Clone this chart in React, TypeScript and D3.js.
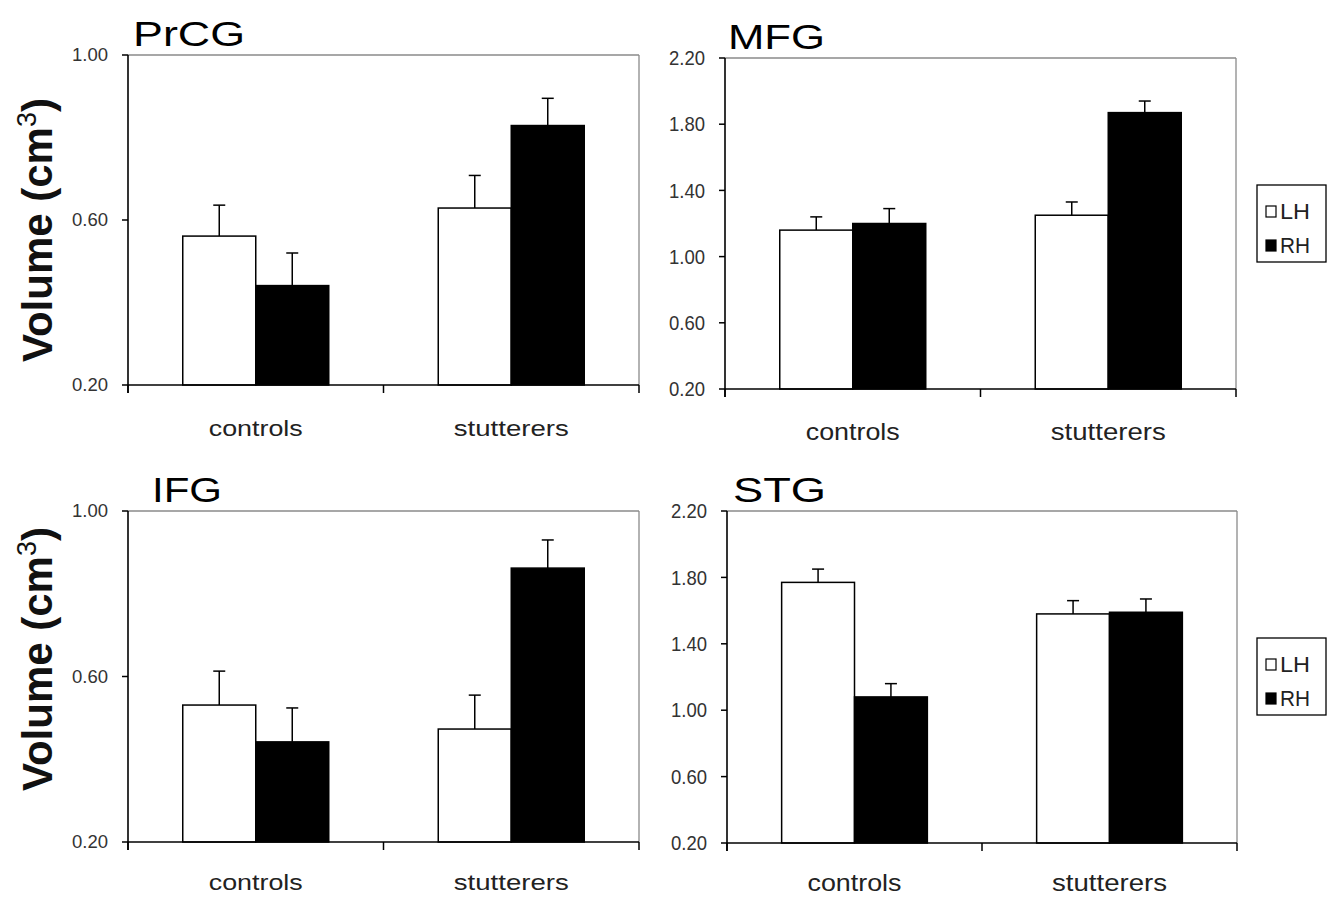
import * as d3 from 'd3'

// chart values
const groups = ['controls', 'stutterers']
const hemis = ['LH', 'RH']

const prcgLH = [0.561, 0.629]
const prcgLHse = [0.075, 0.079]
const prcgRH = [0.441, 0.829]
const prcgRHse = [0.079, 0.066]

const mfgLH = [1.16, 1.25]
const mfgLHse = [0.08, 0.08]
const mfgRH = [1.2, 1.87]
const mfgRHse = [0.09, 0.07]

const ifgLH = [0.531, 0.473]
const ifgLHse = [0.082, 0.082]
const ifgRH = [0.442, 0.862]
const ifgRHse = [0.082, 0.068]

const stgLH = [1.77, 1.58]
const stgLHse = [0.08, 0.08]
const stgRH = [1.08, 1.59]
const stgRHse = [0.08, 0.08]

const smallTicks = [0.2, 0.6, 1.0]
const largeTicks = [0.2, 0.6, 1.0, 1.4, 1.8, 2.2]

const ARIAL = '"Liberation Sans", Arial, sans-serif'
const NARROW = '"Liberation Sans Narrow", "Arial Narrow", "Liberation Sans", sans-serif'

function Panel(props) {
  const { title, left, right, top, bottom, ticks, lh, lhSe, rh, rhSe, narrow, titleX, titleLen, labelDy } = props
  const font = narrow ? NARROW : ARIAL
  const y = d3.scaleLinear().domain([ticks[0], ticks[ticks.length - 1]]).range([bottom, top])
  const x0 = d3.scaleBand().domain(groups).range([left, right])
  const cat = x0.bandwidth()
  const x1 = d3.scaleBand().domain(hemis).range([cat * 0.75 / 3.5, cat * 2.75 / 3.5])
  const series = [
    { key: 'LH', vals: lh, se: lhSe, fill: '#fff' },
    { key: 'RH', vals: rh, se: rhSe, fill: '#000' }
  ]
  const bounds = [left, (left + right) / 2, right]
  return (
    <g>
      <text x={titleX} y={top - 9} fontFamily={ARIAL} fontSize={35} textLength={titleLen} lengthAdjust="spacingAndGlyphs">{title}</text>
      {/* frame */}
      <line x1={left} x2={right} y1={top} y2={top} stroke="#8a8a8a" strokeWidth={1.3} />
      <line x1={right} x2={right} y1={top} y2={bottom} stroke="#8a8a8a" strokeWidth={1.3} />
      {series.map((s) => groups.map((g, i) => {
        const bx = x0(g) + x1(s.key)
        const top2 = y(s.vals[i] + s.se[i])
        const cx = bx + x1.bandwidth() / 2
        return (
          <g key={s.key + g}>
            <line x1={cx} x2={cx} y1={y(s.vals[i])} y2={top2} stroke="#000" strokeWidth={1.5} />
            <line x1={cx - 6} x2={cx + 6} y1={top2} y2={top2} stroke="#000" strokeWidth={1.5} />
            <rect x={bx} y={y(s.vals[i])} width={x1.bandwidth()} height={bottom - y(s.vals[i])}
              fill={s.fill} stroke="#000" strokeWidth={1.5} />
          </g>
        )
      }))}
      {/* axes */}
      <line x1={left} x2={left} y1={top} y2={bottom + 8} stroke="#000" strokeWidth={1.6} />
      <line x1={left} x2={right} y1={bottom} y2={bottom} stroke="#000" strokeWidth={1.6} />
      {bounds.map((b) => (
        <line key={b} x1={b} x2={b} y1={bottom} y2={bottom + 8} stroke="#000" strokeWidth={1.5} />
      ))}
      {ticks.map((t) => (
        <g key={t}>
          <line x1={left - 6} x2={left} y1={y(t)} y2={y(t)} stroke="#000" strokeWidth={1.5} />
          <text x={left - 20} y={y(t)} dy="0.36em" textAnchor="end" fontFamily={font}
            fontSize={narrow ? 20 : 18} fill="#333" textLength={narrow ? 36 : 36}
            lengthAdjust="spacingAndGlyphs">{d3.format('.2f')(t)}</text>
        </g>
      ))}
      {groups.map((g) => (
        <text key={g} x={x0(g) + cat / 2} y={bottom + labelDy} textAnchor="middle" fontFamily={font}
          fontSize={narrow ? 24 : 22} fill="#222" textLength={g === 'controls' ? 94 : 115}
          lengthAdjust="spacingAndGlyphs">{g}</text>
      ))}
    </g>
  )
}

function Legend({ x, y }) {
  return (
    <g>
      <rect x={x} y={y} width={69} height={77} fill="#fff" stroke="#000" strokeWidth={1.3} />
      {hemis.map((h, i) => (
        <g key={h}>
          <rect x={x + 9} y={y + 21 + i * 34} width={10} height={11}
            fill={i === 0 ? '#fff' : '#000'} stroke="#000" strokeWidth={1.2} />
          <text x={x + 23} y={y + 26 + i * 34} dy="0.36em" fontFamily={NARROW} fontSize={22}
            fill="#222" textLength={30} lengthAdjust="spacingAndGlyphs">{h}</text>
        </g>
      ))}
    </g>
  )
}

function YTitle({ cy }) {
  return (
    <text transform={`translate(52,${cy}) rotate(-90)`} textAnchor="middle" fontFamily={ARIAL}
      fontWeight="bold" fontSize={42} fill="#111">
      Volume (cm<tspan fontSize={27} fontWeight="normal" dy={-16}>3</tspan><tspan dy={16}>)</tspan>
    </text>
  )
}

export default function App() {
  return (
    <svg width={1331} height={897} style={{ position: 'absolute', left: 0, top: 0, background: '#fff' }}>
      <rect width={1331} height={897} fill="#fff" />
      <YTitle cy={230} />
      <YTitle cy={659} />
      <Panel title="PrCG" titleX={133} titleLen={112} left={128} right={639} top={55} bottom={385}
        ticks={smallTicks} lh={prcgLH} lhSe={prcgLHse} rh={prcgRH} rhSe={prcgRHse} labelDy={51} />
      <Panel title="MFG" titleX={728} titleLen={97} left={725} right={1236} top={58} bottom={389}
        ticks={largeTicks} lh={mfgLH} lhSe={mfgLHse} rh={mfgRH} rhSe={mfgRHse} narrow labelDy={51} />
      <Panel title="IFG" titleX={152} titleLen={70} left={128} right={639} top={511} bottom={842}
        ticks={smallTicks} lh={ifgLH} lhSe={ifgLHse} rh={ifgRH} rhSe={ifgRHse} labelDy={48} />
      <Panel title="STG" titleX={733} titleLen={93} left={727} right={1237} top={511} bottom={843}
        ticks={largeTicks} lh={stgLH} lhSe={stgLHse} rh={stgRH} rhSe={stgRHse} narrow labelDy={48} />
      <Legend x={1257} y={185} />
      <Legend x={1257} y={638} />
    </svg>
  )
}
